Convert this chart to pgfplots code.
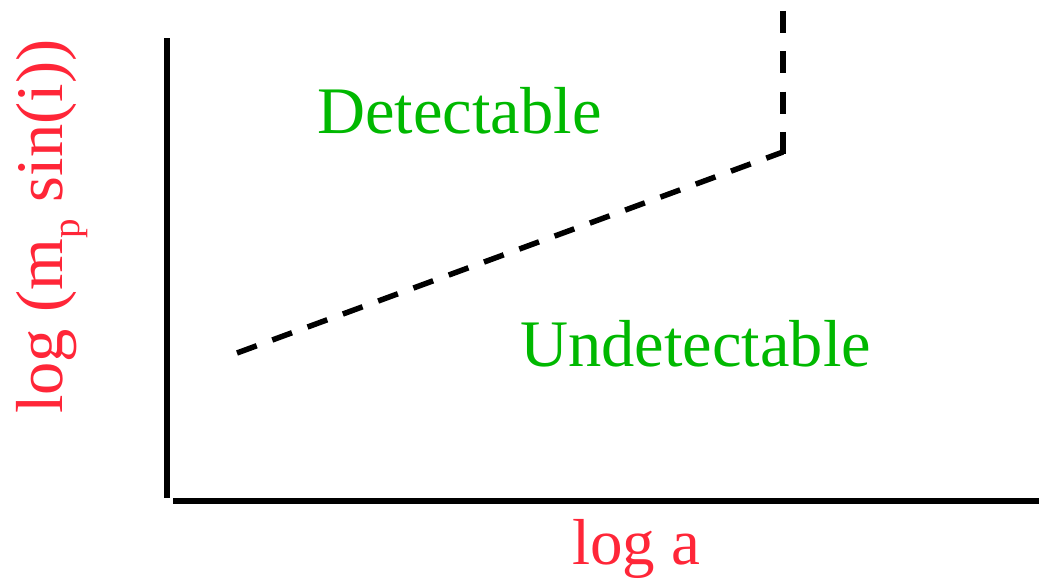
\documentclass[border=0pt]{standalone}
\usepackage{pgfplots}
\pgfplotsset{compat=1.18}
\usepackage{fontspec}
\setmainfont{Liberation Serif}
\definecolor{labelred}{RGB}{255,38,56}
\definecolor{regiongreen}{RGB}{0,184,0}
\begin{document}
\begin{tikzpicture}
\useasboundingbox (0,0) rectangle (1039pt,580pt);
\begin{axis}[
  at={(0,0)}, anchor=south west,
  scale only axis, width=1039pt, height=580pt,
  xmin=0, xmax=1039, ymin=0, ymax=580,
  y dir=reverse, hide axis, clip=false,
]
% the two axis strokes, not joined at the corner
\draw[line width=6pt] (axis cs:167.3,38.3) -- (axis cs:167.3,498.3);
\draw[line width=6pt] (axis cs:173.3,501) -- (axis cs:1039,501);
% detection threshold
\addplot[black, line width=5.5pt, dash pattern=on 21pt off 16.6pt]
  coordinates {(237,353) (783,152)};
\addplot[black, line width=5.5pt, dash pattern=on 22pt off 18.3pt]
  coordinates {(783,11) (783,154)};
% region labels
\node[anchor=base west, inner sep=0pt, text=regiongreen,
      font=\fontsize{66.5}{72}\selectfont] at (axis cs:317,134) {Detectable};
\node[anchor=base west, inner sep=0pt, text=regiongreen,
      font=\fontsize{66.5}{72}\selectfont] at (axis cs:520,366) {Undetectable};
% axis labels
\node[anchor=base west, inner sep=0pt, text=labelred,
      font=\fontsize{65}{70}\selectfont] at (axis cs:572,564.5) {log a};
\node[anchor=base west, inner sep=0pt, text=labelred, rotate=90,
      font=\fontsize{66.5}{72}\selectfont] at (axis cs:62,414)
      {log (m\raisebox{-17pt}{\fontsize{39}{39}\selectfont p} sin(i))};
\end{axis}
\end{tikzpicture}
\end{document}
